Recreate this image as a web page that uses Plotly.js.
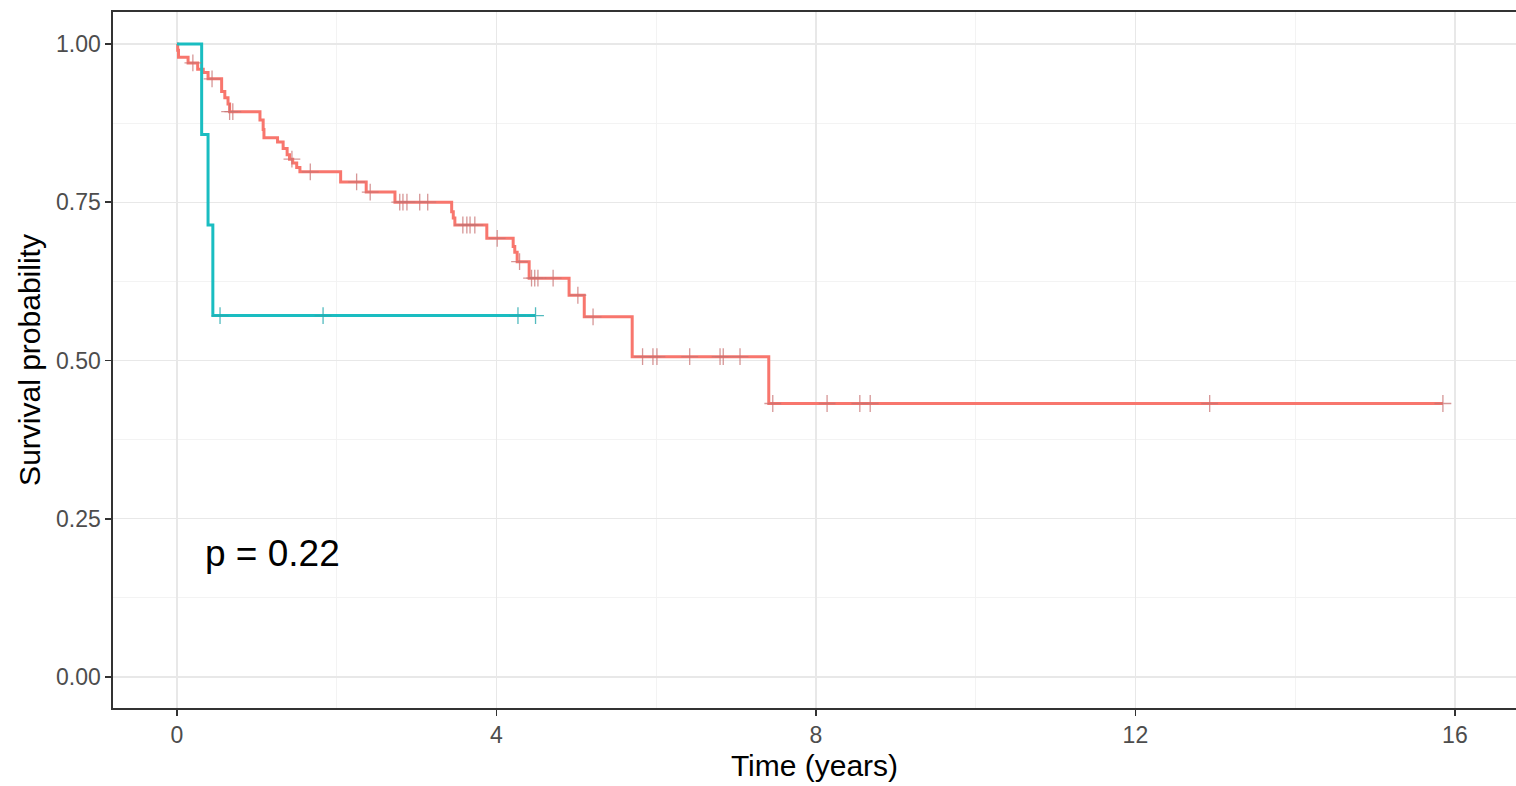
<!DOCTYPE html>
<html>
<head>
<meta charset="utf-8">
<script src="https://cdn.plot.ly/plotly-3.0.1.min.js"></script>
<style>html,body{margin:0;padding:0;background:#fff;}#chart{width:1516px;height:786px;}</style>
</head>
<body>
<div id="chart"></div>
<script>
// Group 1 (red) Kaplan-Meier steps
const redTimes = [0, 0.01, 0.02, 0.14, 0.26, 0.33, 0.39, 0.56, 0.60, 0.64, 0.66, 1.04, 1.08, 1.09, 1.26, 1.33, 1.38, 1.41, 1.45, 1.50, 1.54, 2.05, 2.37, 2.73, 3.44, 3.46, 3.48, 3.88, 4.21, 4.23, 4.26, 4.41, 4.91, 5.10, 5.70, 7.41, 15.85];
const redSurv  = [1.00, 0.99, 0.979, 0.97, 0.96, 0.955, 0.945, 0.925, 0.915, 0.905, 0.893, 0.88, 0.865, 0.852, 0.845, 0.835, 0.825, 0.818, 0.812, 0.805, 0.798, 0.782, 0.766, 0.75, 0.735, 0.725, 0.714, 0.693, 0.68, 0.671, 0.656, 0.63, 0.603, 0.569, 0.506, 0.432, 0.432];
const redCensor = [0.20, 0.44, 0.66, 0.70, 1.44, 1.67, 2.25, 2.42, 2.79, 2.83, 2.88, 3.04, 3.14, 3.58, 3.63, 3.67, 3.73, 4.01, 4.29, 4.44, 4.48, 4.52, 4.71, 5.02, 5.21, 5.83, 5.96, 6.01, 6.42, 6.80, 6.84, 7.05, 7.46, 8.14, 8.55, 8.68, 12.93, 15.85];

// Group 2 (teal)
const tealTimes = [0, 0.31, 0.39, 0.45, 4.49];
const tealSurv  = [1.00, 0.857, 0.714, 0.571, 0.571];
const tealCensor = [0.54, 1.83, 4.27, 4.49];

const xTicks = [0, 4, 8, 12, 16];
const yTicks = [0, 0.25, 0.5, 0.75, 1.0];
const pText = "p = 0.22";

const redColor = "#F8766D";
const tealColor = "#1ABDC1";

function survAt(times, surv, t) {
  let v = surv[0];
  for (let i = 0; i < times.length; i++) { if (times[i] <= t) v = surv[i]; }
  return v;
}

const traces = [
  {x: redTimes, y: redSurv, mode: "lines", line: {shape: "hv", color: redColor, width: 3}, hoverinfo: "skip"},
  {x: tealTimes, y: tealSurv, mode: "lines", line: {shape: "hv", color: tealColor, width: 3}, hoverinfo: "skip"},
  {x: redCensor, y: redCensor.map(t => survAt(redTimes, redSurv, t)), mode: "markers",
   marker: {symbol: "cross-thin", size: 12, line: {color: "rgba(200,115,115,0.75)", width: 1.3}}, hoverinfo: "skip"},
  {x: tealCensor, y: tealCensor.map(t => survAt(tealTimes, tealSurv, t)), mode: "markers",
   marker: {symbol: "cross-thin", size: 12, line: {color: "rgba(40,170,175,0.8)", width: 1.3}}, hoverinfo: "skip"}
];

const layout = {
  width: 1516, height: 786,
  margin: {l: 113, r: 0, t: 12, b: 78},
  paper_bgcolor: "#fff", plot_bgcolor: "#fff",
  showlegend: false,
  font: {family: "Liberation Sans, Arial, sans-serif"},
  xaxis: {
    range: [-0.8, 16.765], tickvals: xTicks, ticktext: xTicks.map(String),
    showgrid: true, gridcolor: "#E8E8E8", gridwidth: 1.3,
    minor: {dtick: 2, tick0: 0, showgrid: true, gridcolor: "#F2F2F2", gridwidth: 0.9},
    zeroline: false, showline: true, mirror: true, linecolor: "#333333", linewidth: 1.6,
    ticks: "outside", ticklen: 6, tickcolor: "#333333", tickwidth: 1.6,
    tickfont: {size: 23, color: "#4D4D4D"},
    title: {text: "Time (years)", font: {size: 30, color: "#000"}, standoff: 8}
  },
  yaxis: {
    range: [-0.049, 1.0505], tickvals: yTicks, ticktext: yTicks.map(v => v.toFixed(2)),
    showgrid: true, gridcolor: "#E8E8E8", gridwidth: 1.3,
    minor: {dtick: 0.125, tick0: 0, showgrid: true, gridcolor: "#F2F2F2", gridwidth: 0.9},
    zeroline: false, showline: true, mirror: true, linecolor: "#333333", linewidth: 1.6,
    ticks: "outside", ticklen: 6, tickcolor: "#333333", tickwidth: 1.6,
    tickfont: {size: 23, color: "#4D4D4D"},
    title: {text: "Survival probability", font: {size: 30, color: "#000"}, standoff: 6}
  },
  annotations: [{
    x: 0.33, y: 0.195, xref: "x", yref: "y", xanchor: "left", yanchor: "middle",
    text: pText, showarrow: false, font: {size: 37, color: "#000"}
  }]
};

Plotly.newPlot("chart", traces, layout, {staticPlot: true, displayModeBar: false});
</script>
</body>
</html>
